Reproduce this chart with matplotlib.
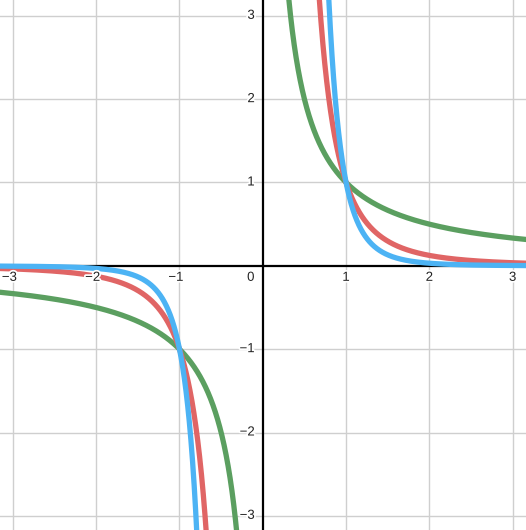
import numpy as np
import matplotlib
matplotlib.use("Agg")
import matplotlib.pyplot as plt
import matplotlib.patheffects as pe

# Functions y = 1 / x^n
exponents = [1, 3, 5]
colors = ["#5b9f60", "#e06565", "#4cb3f4"]
x_ticks = [-3, -2, -1, 1, 2, 3]
y_ticks = [-3, -2, -1, 1, 2, 3]
x_range = (-3.155, 3.16)
y_range = (-3.17, 3.19)

fig = plt.figure(figsize=(5.26, 5.30), dpi=100)
ax = fig.add_axes([0, 0, 1, 1])
ax.set_xlim(*x_range)
ax.set_ylim(*y_range)
ax.axis("off")

for g in range(-4, 5):
    if g != 0:
        ax.axvline(g, color="#cfcfcf", lw=1.0, zorder=1)
        ax.axhline(g, color="#cfcfcf", lw=1.0, zorder=1)
ax.axvline(0, color="black", lw=1.6, zorder=2)
ax.axhline(0, color="black", lw=1.6, zorder=2)

halo = [pe.withStroke(linewidth=2.5, foreground="white")]
fs = 9.5
fam = ["Liberation Sans", "DejaVu Sans"]
for t in x_ticks:
    lab = str(t).replace("-", "\u2212")
    dx = -3.5 if t < 0 else 0
    ax.annotate(lab, xy=(t, 0), xytext=(dx, -12), textcoords="offset pixels",
                ha="center", va="center", fontsize=fs, family=fam,
                color="#222222", path_effects=halo, zorder=5)
for t in y_ticks:
    lab = str(t).replace("-", "\u2212")
    ax.annotate(lab, xy=(0, t), xytext=(-8, 0), textcoords="offset pixels",
                ha="right", va="center", fontsize=fs, family=fam,
                color="#222222", path_effects=halo, zorder=5)
ax.annotate("0", xy=(0, 0), xytext=(-12, -12), textcoords="offset pixels",
            ha="center", va="center", fontsize=fs, family=fam,
            color="#222222", path_effects=halo, zorder=5)

xs_pos = np.linspace(0.05, 3.3, 2000)
xs_neg = -xs_pos[::-1]
for n, c in zip(exponents, colors):
    for xs in (xs_neg, xs_pos):
        ax.plot(xs, 1.0 / xs ** n, color=c, lw=3.8, solid_capstyle="round", zorder=4)

fig.savefig("out.png", dpi=100)
